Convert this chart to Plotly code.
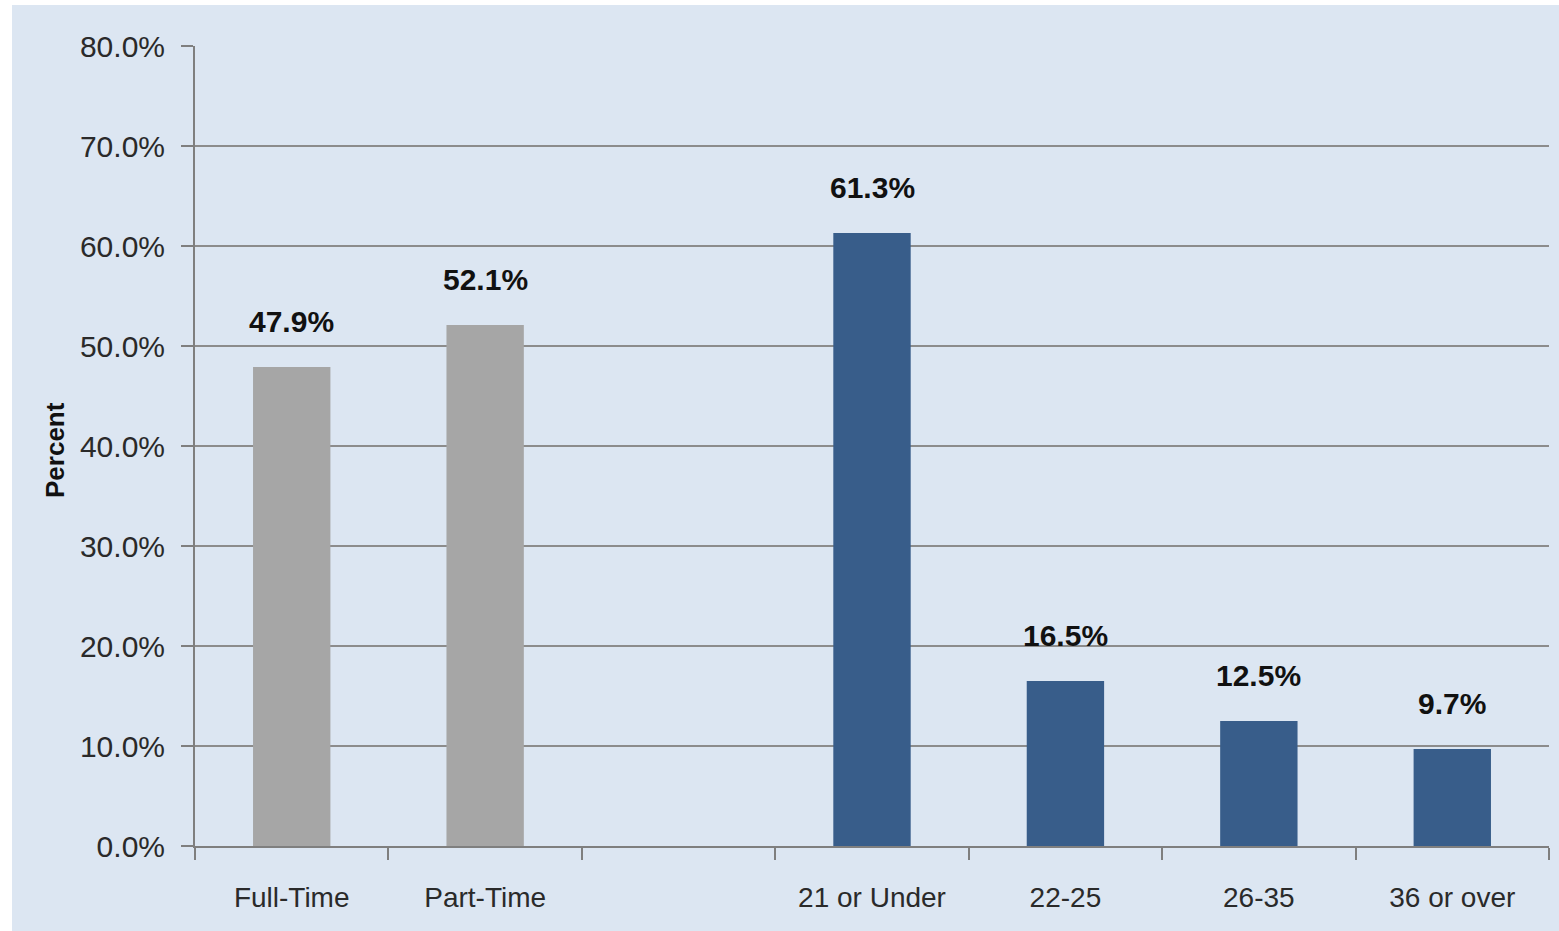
import plotly.graph_objects as go

categories = ["Full-Time", "Part-Time", " ", "21 or Under", "22-25", "26-35", "36 or over"]
values = [47.9, 52.1, None, 61.3, 16.5, 12.5, 9.7]
colors = ["#a6a6a6", "#a6a6a6", "#a6a6a6", "#385d8a", "#385d8a", "#385d8a", "#385d8a"]
labels = ["47.9%", "52.1%", "", "61.3%", "16.5%", "12.5%", "9.7%"]
y_ticks = [0, 10, 20, 30, 40, 50, 60, 70, 80]
y_ticklabels = ["0.0%", "10.0%", "20.0%", "30.0%", "40.0%", "50.0%", "60.0%", "70.0%", "80.0%"]

FONT = "Liberation Sans, Arial, sans-serif"
BG = "#dce6f2"

W, H = 1559, 931
L, R, T, B = 195, 10, 46, 85
pw, ph = W - L - R, H - T - B

def px(x):
    return (x - L) / pw

def py(y):
    return (H - B - y) / ph

fig = go.Figure()
fig.add_trace(go.Bar(
    x=categories, y=values, marker=dict(color=colors, line=dict(width=0)),
    width=0.4, hoverinfo="skip",
))

label_anns = []
for c, v, t in zip(categories, values, labels):
    if v is None:
        continue
    label_anns.append(dict(
        x=c, y=v, xref="x", yref="y", text="<b>" + t + "</b>", showarrow=False,
        yanchor="middle", yshift=46,
        font=dict(family=FONT, size=30, color="#111111"),
    ))

fig.update_layout(
    width=W, height=H,
    margin=dict(l=L, r=R, t=T, b=B),
    paper_bgcolor="white",
    plot_bgcolor="white",
    showlegend=False,
    xaxis=dict(
        type="category", categoryorder="array", categoryarray=categories,
        tickson="boundaries", ticks="outside", ticklen=12, tickwidth=2, tickcolor="#7f7f7f",
        showline=True, linecolor="#7f7f7f", linewidth=2,
        showgrid=False, ticklabelstandoff=25,
        tickfont=dict(family=FONT, size=28, color="#2a2a2a"),
    ),
    yaxis=dict(
        range=[0, 80], tickvals=y_ticks, ticktext=y_ticklabels,
        ticks="outside", ticklen=12, tickwidth=2, tickcolor="#7f7f7f",
        showline=True, linecolor="#7f7f7f", linewidth=2,
        showgrid=True, gridcolor="#8c8c8c", gridwidth=2,
        zeroline=False, ticklabelstandoff=10,
        tickfont=dict(family=FONT, size=30, color="#2a2a2a"),
    ),
    shapes=[
        dict(type="rect", xref="paper", yref="paper", layer="below",
             x0=px(12), x1=px(W), y0=py(H), y1=py(5),
             fillcolor=BG, line=dict(width=0)),
    ],
    annotations=label_anns + [
        dict(text="<b>Percent</b>", xref="paper", yref="paper",
             x=px(55), y=py(450), xanchor="center", yanchor="middle",
             textangle=-90, showarrow=False,
             font=dict(family=FONT, size=26, color="#111111")),
    ],
)

fig.write_html("out.html")
